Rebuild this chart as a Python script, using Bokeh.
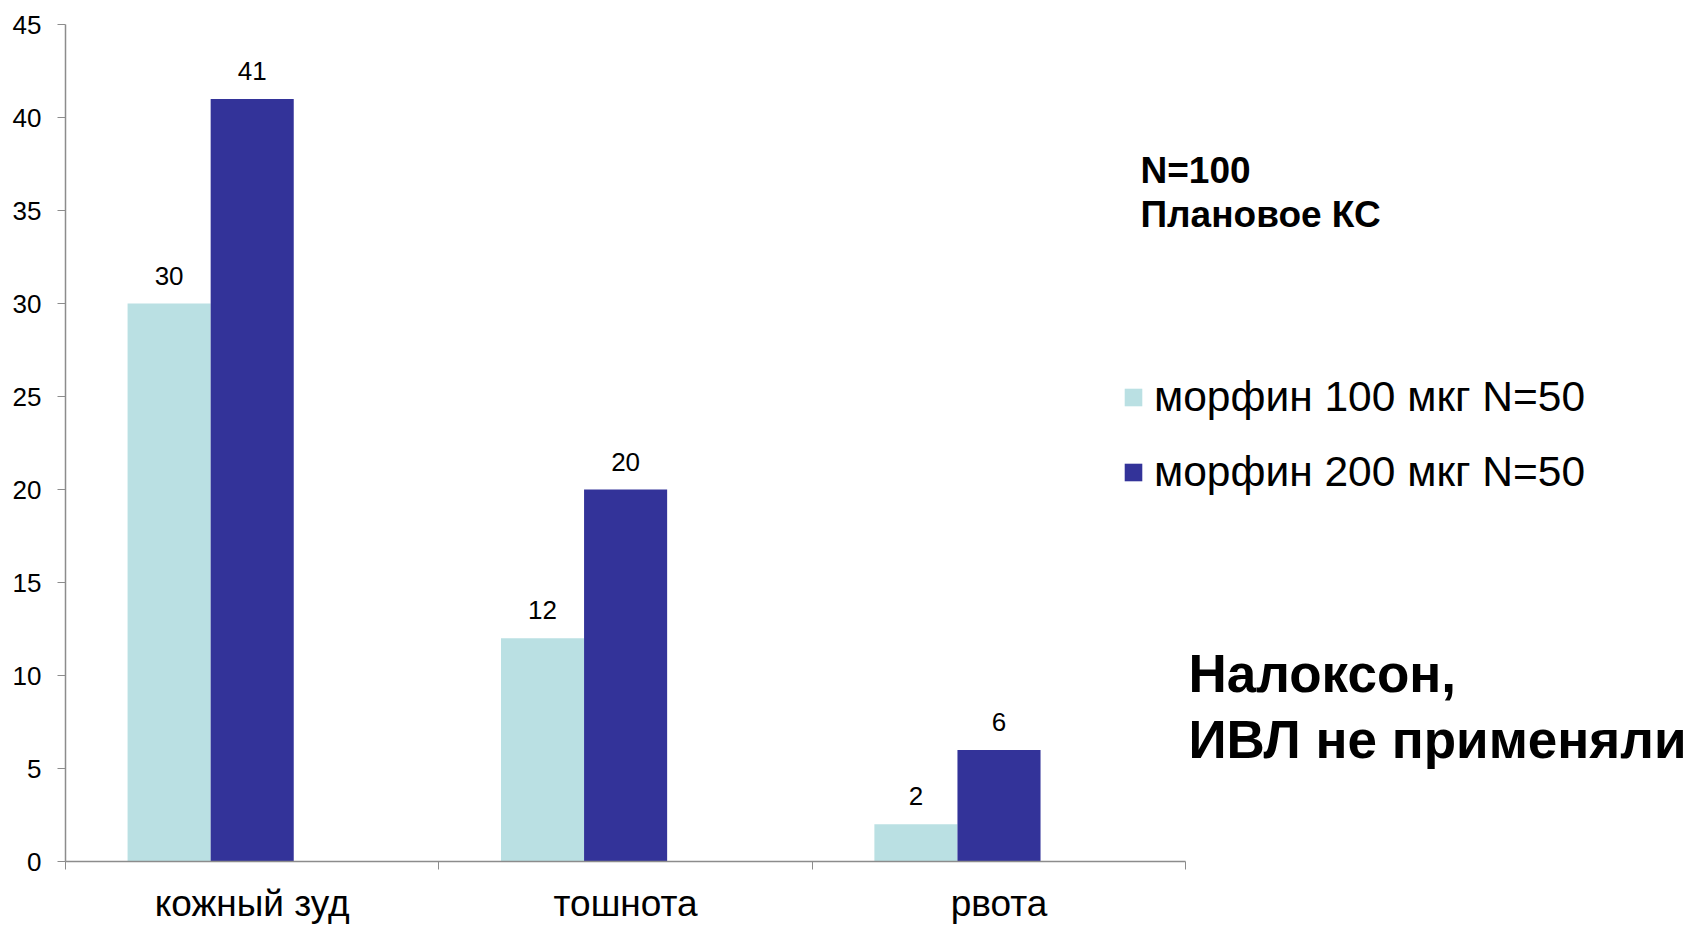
from bokeh.plotting import figure
from bokeh.models import Range1d, FixedTicker, Legend, LegendItem, Label, LabelSet, ColumnDataSource
from bokeh.core.properties import value
from bokeh.embed import file_html
from bokeh.resources import INLINE

# ---- data ----
categories = ["кожный зуд", "тошнота", "рвота"]
series_names = ["морфин 100 мкг N=50", "морфин 200 мкг N=50"]
morphine_100 = [30, 12, 2]
morphine_200 = [41, 20, 6]
y_ticks = [0, 5, 10, 15, 20, 25, 30, 35, 40, 45]
note_top = ["N=100", "Плановое КС"]
note_bottom = ["Налоксон,", "ИВЛ не применяли"]

# ---- styles ----
LIGHT = "#BAE0E3"
DARK = "#333399"
AXIS = "#8C8C8C"
FONT = "Liberation Sans"

W, H = 1692, 926
LEFT, TOP, BOTTOM = 65, 24, 65
frame_w = W - LEFT
cat_px = 373.4
x_end = frame_w / cat_px
bar_w = 0.2225

centers = [i + 0.5 for i in range(len(categories))]

src1 = ColumnDataSource(dict(x=[c - bar_w for c in centers], top=morphine_100,
                             lab=[str(v) for v in morphine_100]))
src2 = ColumnDataSource(dict(x=[c for c in centers], top=morphine_200,
                             lab=[str(v) for v in morphine_200]))

p = figure(width=W, height=H, x_range=Range1d(0, x_end), y_range=Range1d(0, 45),
           output_backend="svg", toolbar_location=None,
           min_border_left=LEFT, min_border_right=0, min_border_top=TOP, min_border_bottom=BOTTOM)
p.outline_line_color = None
p.grid.visible = False
p.background_fill_color = "white"
p.border_fill_color = "white"

r1 = p.vbar(x="x", top="top", width=bar_w, source=src1, fill_color=LIGHT, line_color=None)
r2 = p.vbar(x="x", top="top", width=bar_w, source=src2, fill_color=DARK, line_color=None)

for s in (src1, src2):
    p.add_layout(LabelSet(x="x", y="top", text="lab", source=s, text_align="center",
                          text_baseline="alphabetic", y_offset=19, text_font_size=value("26px"),
                          text_font=value(FONT), text_color="#000000"))

# x axis
xa = p.xaxis[0]
xa.ticker = FixedTicker(ticks=centers, minor_ticks=[0, 1, 2, 3])
xa.major_label_overrides = {c: n for c, n in zip(centers, categories)}
xa.bounds = (0, len(categories))
xa.major_tick_line_color = None
xa.major_tick_out = 0
xa.minor_tick_line_color = AXIS
xa.minor_tick_out = 8
xa.minor_tick_in = 0
xa.axis_line_color = AXIS
xa.axis_line_width = 1.5
xa.major_label_text_font_size = "37px"
xa.major_label_text_font = FONT
xa.major_label_text_color = "#000000"
xa.major_label_standoff = 13

# y axis
ya = p.yaxis[0]
ya.ticker = FixedTicker(ticks=y_ticks)
ya.major_tick_out = 8
ya.major_tick_in = 0
ya.minor_tick_line_color = None
ya.major_tick_line_color = AXIS
ya.axis_line_color = AXIS
ya.axis_line_width = 1.5
ya.major_label_text_font_size = "26px"
ya.major_label_text_font = FONT
ya.major_label_text_color = "#000000"
ya.major_label_standoff = 16

legend = Legend(items=[LegendItem(label=series_names[0], renderers=[r1]),
                       LegendItem(label=series_names[1], renderers=[r2])],
                location=(1057, 364), orientation="vertical",
                glyph_width=22, glyph_height=22, label_standoff=10,
                label_height=50, spacing=25, padding=0, margin=0,
                border_line_color=None, background_fill_alpha=0,
                label_text_font_size="42.5px", label_text_font=FONT,
                label_text_color="#000000")
p.add_layout(legend)

for txt, y in zip(note_top, [691, 647]):
    p.add_layout(Label(x=1075, y=y, x_units="screen", y_units="screen", text=txt,
                       text_font=FONT, text_font_style="bold", text_font_size="37px",
                       text_baseline="alphabetic", text_color="#000000"))
for txt, y in zip(note_bottom, [188, 122]):
    p.add_layout(Label(x=1123, y=y, x_units="screen", y_units="screen", text=txt,
                       text_font=FONT, text_font_style="bold", text_font_size="53px",
                       text_baseline="alphabetic", text_color="#000000"))

open("out.html", "w").write(file_html(p, INLINE))
